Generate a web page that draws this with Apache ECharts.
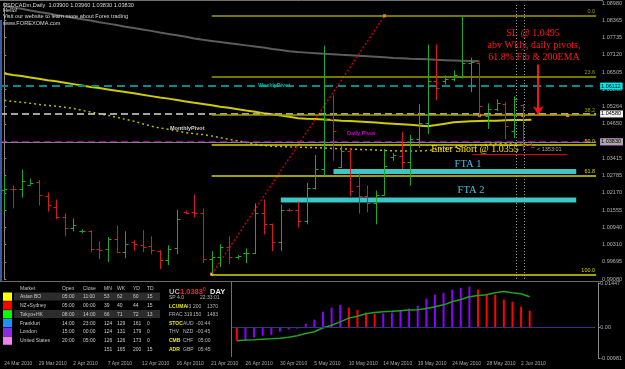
<!DOCTYPE html>
<html lang="en">
<head>
<meta charset="UTF-8">
<title>USDCADm Daily</title>
<style>
    html, body { margin: 0; padding: 0; background: #000; }
    #main { width: 625px; height: 369px; }
</style>
</head>
<body>
<div id="main"></div>
<script src="https://cdn.jsdelivr.net/npm/echarts@6/dist/echarts.min.js"></script>
<script>
    // daily bars incl. sunday sessions
    let dates = ['24 Mar 2010','25 Mar 2010','26 Mar 2010','28 Mar 2010','29 Mar 2010','30 Mar 2010','31 Mar 2010','1 Apr 2010','2 Apr 2010','4 Apr 2010',
        '5 Apr 2010','6 Apr 2010','7 Apr 2010','8 Apr 2010','9 Apr 2010','11 Apr 2010','12 Apr 2010','13 Apr 2010','14 Apr 2010','15 Apr 2010',
        '16 Apr 2010','18 Apr 2010','19 Apr 2010','20 Apr 2010','21 Apr 2010','22 Apr 2010','23 Apr 2010','25 Apr 2010','26 Apr 2010','27 Apr 2010',
        '28 Apr 2010','29 Apr 2010','30 Apr 2010','2 May 2010','3 May 2010','4 May 2010','5 May 2010','6 May 2010','7 May 2010','9 May 2010',
        '10 May 2010','11 May 2010','12 May 2010','13 May 2010','14 May 2010','16 May 2010','17 May 2010','18 May 2010','19 May 2010','20 May 2010',
        '21 May 2010','23 May 2010','24 May 2010','25 May 2010','26 May 2010','27 May 2010','28 May 2010','30 May 2010','31 May 2010','1 Jun 2010',
        '2 Jun 2010','3 Jun 2010'];
    let emptySlots = 7;

    let opens = [1.0228,1.0232,1.0232,1.0246,1.0257,1.0207,1.0168,1.0132,1.0090,1.0079,
        1.0079,1.0015,1.0015,1.0050,1.0004,1.0040,1.0029,1.0026,1.0008,0.9976,
        1.0018,1.0147,1.0147,1.0143,0.9979,0.9986,1.0022,0.9986,1.0001,1.0001,
        1.0143,1.0104,1.0040,1.0157,1.0157,1.0115,1.0236,1.0303,1.0481,1.0310,
        1.0367,1.0243,1.0204,1.0179,1.0211,1.0346,1.0349,1.0328,1.0410,1.0467,
        1.0617,1.0617,1.0624,1.0631,1.0681,1.0681,1.0492,1.0517,1.0535,1.0439,
        1.0531,1.0390];
    let highs = [1.0278,1.0243,1.0300,1.0268,1.0264,1.0218,1.0193,1.0143,1.0125,1.0086,
        1.0083,1.0043,1.0058,1.0100,1.0079,1.0047,1.0083,1.0061,1.0011,1.0029,
        1.0157,1.0154,1.0211,1.0161,1.0008,1.0033,1.0061,0.9994,1.0018,1.0179,
        1.0193,1.0107,1.0175,1.0161,1.0186,1.0253,1.0353,1.0745,1.0567,1.0389,
        1.0375,1.0286,1.0243,1.0225,1.0375,1.0360,1.0435,1.0424,1.0535,1.0749,
        1.0749,1.0638,1.0656,1.0852,1.0702,1.0684,1.0538,1.0553,1.0542,1.0563,
        1.0535,1.0396];
    let lows = [1.0150,1.0161,1.0200,1.0246,1.0172,1.0150,1.0122,1.0061,1.0079,1.0072,
        1.0004,0.9979,0.9969,1.0001,0.9983,1.0008,1.0004,0.9997,0.9944,0.9958,
        0.9997,1.0140,1.0129,0.9965,0.9925,0.9951,0.9961,0.9979,0.9965,0.9998,
        1.0068,1.0008,1.0008,1.0150,1.0093,1.0104,1.0229,1.0278,1.0332,1.0307,
        1.0204,1.0143,1.0147,1.0104,1.0207,1.0332,1.0303,1.0243,1.0378,1.0428,
        1.0549,1.0606,1.0617,1.0627,1.0578,1.0492,1.0446,1.0510,1.0410,1.0414,
        1.0367,1.0383];
    let closes = [1.0232,1.0230,1.0261,1.0253,1.0211,1.0172,1.0132,1.0090,1.0100,1.0080,
        1.0015,1.0013,1.0050,1.0004,1.0033,1.0033,1.0022,1.0011,0.9976,1.0015,
        1.0125,1.0145,1.0143,0.9979,0.9986,1.0022,0.9986,0.9992,1.0003,1.0143,
        1.0104,1.0040,1.0154,1.0155,1.0115,1.0236,1.0303,1.0481,1.0439,1.0367,
        1.0225,1.0204,1.0179,1.0211,1.0314,1.0353,1.0328,1.0410,1.0467,1.0617,
        1.0592,1.0624,1.0638,1.0681,1.0688,1.0528,1.0517,1.0538,1.0456,1.0553,
        1.0390,1.0383];

    let grayMA = [1.0887,1.0882,1.0877,1.0871,1.0866,1.0861,1.0855,1.0850,1.0845,1.0840,
        1.0835,1.0829,1.0824,1.0819,1.0813,1.0808,1.0803,1.0798,1.0792,1.0787,
        1.0782,1.0777,1.0771,1.0766,1.0762,1.0758,1.0754,1.0750,1.0746,1.0742,
        1.0738,1.0733,1.0729,1.0725,1.0722,1.0720,1.0718,1.0716,1.0714,1.0712,
        1.0711,1.0709,1.0707,1.0705,1.0703,1.0701,1.0700,1.0698,1.0697,1.0696,
        1.0694,1.0693,1.0692,1.0691,1.0690,1.0689];
    let yellowMA = [1.0645,1.0640,1.0636,1.0631,1.0626,1.0621,1.0617,1.0612,1.0607,1.0602,
        1.0597,1.0593,1.0588,1.0583,1.0579,1.0574,1.0569,1.0564,1.0559,1.0555,
        1.0550,1.0545,1.0540,1.0536,1.0531,1.0526,1.0522,1.0517,1.0512,1.0508,
        1.0503,1.0499,1.0494,1.0490,1.0485,1.0483,1.0482,1.0480,1.0478,1.0476,
        1.0475,1.0473,1.0471,1.0469,1.0467,1.0465,1.0463,1.0461,1.0459,1.0456,
        1.0460,1.0465,1.0470,1.0472,1.0474,1.0475,1.0476,1.0476,1.0477,1.0478,
        1.0478,1.0479];
    let dottedMA = [1.0549,1.0545,1.0542,1.0538,1.0534,1.0531,1.0528,1.0524,1.0520,1.0513,
        1.0507,1.0501,1.0495,1.0488,1.0481,1.0474,1.0465,1.0456,1.0450,1.0445,
        1.0439,1.0433,1.0429,1.0426,1.0421,1.0415,1.0409,1.0404,1.0398,1.0392,
        1.0387,1.0384,1.0383,1.0382,1.0381,1.0380,1.0379,1.0378,1.0376,1.0375,
        1.0374,1.0373,1.0372,1.0371,1.0369,1.0368,1.0367,1.0367,1.0367,1.0369,
        1.0373,1.0376,1.0380,1.0383,1.0387,1.0389,1.0391,1.0393,1.0394,1.0396,
        1.0397,1.0398];

    // MACD panel, first value belongs to bar 27
    let histStart = 27;
    let macdHist = [-0.0042,-0.0042,-0.0032,-0.0026,-0.0023,-0.0013,-0.0006,-0.0003,0.0013,0.0026,
        0.0052,0.0065,0.0074,0.0065,0.0058,0.0049,0.0045,0.0046,0.0049,0.0055,
        0.0062,0.0071,0.0094,0.0107,0.0113,0.0123,0.0129,0.0133,0.0123,0.0110,
        0.0107,0.0091,0.0084,0.0068,0.0055];
    let macdSignal = [-0.0042,-0.0040,-0.0039,-0.0037,-0.0036,-0.0034,-0.0031,-0.0026,-0.0019,-0.0013,
        0.0000,0.0008,0.0019,0.0031,0.0037,0.0045,0.0049,0.0052,0.0053,0.0055,
        0.0057,0.0058,0.0062,0.0068,0.0074,0.0084,0.0091,0.0100,0.0104,0.0107,
        0.0113,0.0117,0.0113,0.0110,0.0100];

    let priceTicks = ['0.99080','0.99695','1.00310','1.00940','1.01555','1.02170','1.02785','1.03415','1.04030',
        '1.04650','1.05264','1.05890','1.06505','1.07120','1.07735','1.08365','1.08980'];
    let priceMin = 0.9908, priceMax = 1.0898;
    let macdMin = -0.00981, macdMax = 0.01447;

    let fibLow = 0.9925, fibHigh = 1.0852, fibLowBar = 24, fibHighBar = 44;
    let fibRatios = [0, 23.6, 38.2, 50, 61.8, 100];
    let weeklyPivot = 1.06112, monthlyPivot = 1.04580, dailyPivot = 1.04440, bid = 1.03830;
    let stopLoss = 1.0495, entry = 1.0355;
    let slBars = [55, 60, 65.2];
    let entryBars = [54.2, 65.1];
    let arrowBar = 61.8, arrowTop = 1.0677;
    let fta1 = [38.1, 66.2, 1.0285, 1.0303];
    let fta2 = [32.0, 66.2, 1.0182, 1.0200];
    let cursorBars = [59.2, 60.2];

    let sessions = ['Asian BO', 'NZ+Sydney', 'Tokyo+HK', 'Frankfurt', 'London', 'United States', ''];
    let sessOpen = ['05:00', '05:00', '08:00', '14:00', '15:00', '20:00', ''];
    let sessClose = ['11:00', '00:00', '14:00', '23:00', '00:00', '05:00', ''];
    let sessMN = [53, 39, 66, 124, 124, 126, 151];
    let sessWK = [62, 40, 71, 129, 131, 126, 165];
    let sessYD = [60, 44, 72, 161, 179, 173, 200];
    let sessTD = [15, 15, 13, 0, 0, 0, 15];
    let sessColors = ['#ffff00', '#ff0000', '#00ff00', '#1e90ff', '#8a2be2', '#ee82ee'];

    const SANS = 'Liberation Sans';
    const SERIF = 'Liberation Serif';
    let upColor = '#22a822', downColor = '#d81c1c';

    let myChart = echarts.init(document.getElementById('main'));

    let ohlc = opens.map(function (o, i) { return [i, o, highs[i], lows[i], closes[i]]; });
    function toXY(arr, start) {
        return arr.map(function (v, k) { return [k + (start || 0), v]; });
    }
    let axisDates = dates.concat(new Array(emptySlots).fill(''));
    let priceStep = (priceMax - priceMin) / (priceTicks.length - 1);
    let priceTickValues = priceTicks.map(function (t, k) { return priceMin + k * priceStep; });

    let histData = axisDates.map(function (d, i) {
        let k = i - histStart;
        if (k < 0 || k >= macdHist.length) return null;
        let rising = k > 0 && macdHist[k] >= macdHist[k - 1];
        return { value: macdHist[k], itemStyle: { color: rising ? '#8c00ff' : '#ff0000' } };
    });
    let signalData = axisDates.map(function (d, i) {
        let k = i - histStart;
        return (k < 0 || k >= macdSignal.length) ? null : macdSignal[k];
    });

    // fibonacci levels drawn from the swing low to the swing high
    let fibLines = fibRatios.map(function (r) {
        let lvl = fibHigh - r / 100 * (fibHigh - fibLow);
        let col = r < 50 ? '#9c9c00' : '#d6d600';
        return [
            { coord: [fibLowBar, lvl], lineStyle: { color: col, width: 1.5, type: 'solid' },
              label: { show: true, position: 'insideEndTop', formatter: r.toFixed(1), color: col,
                       fontSize: 5.5, fontFamily: SANS, distance: 1 } },
            { coord: [68.5, lvl] }
        ];
    });

    function tag(value, bg) {
        return { show: true, position: 'end', formatter: value.toFixed(5), backgroundColor: bg, color: '#000',
                 fontSize: 5.5, fontFamily: SANS, padding: [1, 2, 0, 1], distance: 4 };
    }

    let levelLines = [
        { yAxis: weeklyPivot, lineStyle: { color: '#008c8c', width: 2, type: [8, 5] }, label: tag(weeklyPivot, '#00e8e8') },
        { yAxis: monthlyPivot, lineStyle: { color: '#d8d8d8', width: 1.5, type: [7, 4] }, label: tag(monthlyPivot, '#f0f0f0') },
        { yAxis: dailyPivot, lineStyle: { color: '#c800c8', width: 1.5, type: [7, 4] }, label: tag(dailyPivot, '#e800e8') },
        { yAxis: bid, lineStyle: { color: '#808080', width: 1, type: 'solid' }, label: tag(bid, '#a8a8a8') },
        { xAxis: cursorBars[0], lineStyle: { color: '#9a9a9a', width: 1, type: [1, 2] } },
        { xAxis: cursorBars[1], lineStyle: { color: '#9a9a9a', width: 1, type: [1, 2] } },
        [{ coord: [entryBars[0], entry], lineStyle: { color: '#e00000', width: 1, type: 'solid' } }, { coord: [entryBars[1], entry] }],
        [{ coord: [arrowBar, arrowTop], symbol: 'none', lineStyle: { color: '#ff1010', width: 2, type: 'solid' } },
         { coord: [arrowBar, stopLoss], symbol: 'arrow', symbolSize: [8, 9] }]
    ].concat(fibLines);

    function txt(x, y, text, fill, size, o) {
        o = o || {};
        let align = o.align || 'left';
        return {
            type: 'text', z: o.z || 100, silent: true,
            style: {
                text: text, x: x, y: y, fill: fill, fontSize: size,
                fontFamily: o.family || SANS, fontWeight: o.weight || 'normal',
                align: align, textAlign: align, verticalAlign: 'middle', textVerticalAlign: 'middle'
            }
        };
    }
    function rect(x, y, w, h, fill, z) {
        return { type: 'rect', z: z || 95, silent: true, shape: { x: x, y: y, width: w, height: h }, style: { fill: fill } };
    }
    function hline(x1, y1, x2, y2, stroke, z) {
        return { type: 'line', z: z || 96, silent: true, shape: { x1: x1, y1: y1, x2: x2, y2: y2 }, style: { stroke: stroke, lineWidth: 1 } };
    }

    let graphics = [
        hline(0, 0.5, 603, 0.5, '#707070'),
        hline(0, 281.5, 603, 281.5, '#6a6a6a'),
        rect(0, 20, 2, 261, '#3a5a9a'),
        txt(3, 5, 'USDCADm,Daily  1.03900 1.03960 1.03830 1.03830', '#d8d8d8', 5.6),
        txt(3, 10.5, 'Hello!', '#d8d8d8', 5.6),
        txt(3, 16.5, 'Visit our website to learn more about Forex trading', '#d8d8d8', 5.6),
        txt(3, 23, 'www.FOREXOMA.com', '#d8d8d8', 5.6),
        txt(258, 85.5, 'WeeklyPivot', '#00a8a8', 5.5, { weight: 'bold' }),
        txt(170, 128.5, 'MonthlyPivot', '#d0d0d0', 5.5, { weight: 'bold' }),
        txt(347, 133, 'Daily Pivot', '#c800c8', 5.5, { weight: 'bold' }),
        txt(533, 33, 'SL @ 1.0495', '#ff1a1a', 10, { family: SERIF, align: 'center' }),
        txt(534, 45.5, 'abv Wkly, daily pivots,', '#ff1a1a', 10, { family: SERIF, align: 'center' }),
        txt(534, 57.5, '61.8% Fib & 200EMA', '#ff1a1a', 10, { family: SERIF, align: 'center' }),
        txt(475, 149, 'Enter Short @ 1.0355', '#ffe400', 10, { family: SERIF, align: 'center' }),
        txt(537, 149.5, '< 1353:01', '#a8a8a8', 5.5),
        txt(468, 164.5, 'FTA 1', '#48bde0', 10.5, { family: SERIF, align: 'center' }),
        txt(471, 190.5, 'FTA 2', '#48bde0', 10.5, { family: SERIF, align: 'center' }),
        // info box over the lower panel
        rect(0, 282.5, 231, 74, '#000', 90),
        hline(231.5, 282, 231.5, 357, '#707070', 96),
        rect(14, 292.5, 146, 8, '#2c2c2c', 91),
        rect(14, 310, 146, 8, '#2c2c2c', 91)
    ];
    let colX = [20, 62, 83, 104, 117, 133, 147];
    ['Market', 'Open', 'Close', 'MN', 'WK', 'YD', 'TD'].forEach(function (h, c) {
        graphics.push(txt(colX[c], 289, h, '#c0c0c0', 5));
    });
    sessions.forEach(function (name, r) {
        let y = 296.5 + r * 8.9;
        if (r < sessColors.length) graphics.push(rect(3, 292.5 + r * 8.8, 9, 8.3, sessColors[r], 92));
        [name, sessOpen[r], sessClose[r], sessMN[r], sessWK[r], sessYD[r], sessTD[r]].forEach(function (v, c) {
            graphics.push(txt(colX[c], y, String(v), '#c8c8c8', 5));
        });
    });
    graphics.push(
        txt(169, 292, 'UC', '#b8b8b8', 7.5, { weight: 'bold' }),
        txt(180, 292, '1.0383', '#ff2020', 7.5, { weight: 'bold' }),
        txt(203, 290, '0', '#ff2020', 5, { weight: 'bold' }),
        txt(210, 292, 'DAY', '#e8e8e8', 7.5, { weight: 'bold' }),
        txt(169, 298, 'SP 4.0', '#b8b8b8', 5),
        txt(200, 298, '22:33:01', '#b8b8b8', 5),
        txt(169, 306.5, 'LCUMA', '#e8e800', 5, { weight: 'bold' }),
        txt(184, 306.5, '-43', '#b8b8b8', 5), txt(193, 306.5, '200', '#b8b8b8', 5), txt(207, 306.5, '1370', '#b8b8b8', 5),
        txt(169, 315, 'FRAC', '#b8b8b8', 5),
        txt(184, 315, '319', '#b8b8b8', 5), txt(193, 315, '150', '#b8b8b8', 5), txt(207, 315, '1483', '#b8b8b8', 5),
        txt(169, 323.5, 'STOC', '#e8e800', 5, { weight: 'bold' }),
        txt(183, 323.5, 'AUD', '#b8b8b8', 5), txt(196, 323.5, '-00:44', '#b8b8b8', 5),
        txt(169, 332, 'THV', '#b8b8b8', 5),
        txt(183, 332, 'NZD', '#b8b8b8', 5), txt(196, 332, '-00:45', '#b8b8b8', 5),
        txt(169, 341, 'CMB', '#e8e800', 5, { weight: 'bold' }),
        txt(183, 341, 'CHF', '#b8b8b8', 5), txt(198, 341, '05:00', '#b8b8b8', 5),
        txt(169, 350, 'ADR', '#e8e800', 5, { weight: 'bold' }),
        txt(183, 350, 'GBP', '#b8b8b8', 5), txt(198, 350, '05:45', '#b8b8b8', 5)
    );

    let option = {
        backgroundColor: '#000',
        animation: false,
        grid: [
            { left: -1.05, top: 1, width: 600.3, height: 278 },
            { left: -1.05, top: 283, width: 600.3, height: 75 }
        ],
        xAxis: [
            { type: 'value', gridIndex: 0, min: -0.5, max: 68.5, show: false },
            {
                type: 'category', gridIndex: 1, data: axisDates, boundaryGap: true,
                axisLine: { lineStyle: { color: '#808080' } },
                axisTick: { interval: 3, alignWithLabel: true, length: 2, lineStyle: { color: '#909090' } },
                axisLabel: { interval: 3, align: 'left', fontSize: 5, fontFamily: SANS, color: '#a8a8a8', margin: 3 },
                splitLine: { show: false }
            }
        ],
        yAxis: [
            {
                type: 'value', gridIndex: 0, position: 'right', offset: 4, min: priceMin, max: priceMax,
                axisLine: { show: true, lineStyle: { color: '#8a8a8a' } },
                axisTick: { show: true, length: 2, customValues: priceTickValues, lineStyle: { color: '#8a8a8a' } },
                axisLabel: {
                    fontSize: 5.5, fontFamily: SANS, color: '#b0b0b0', margin: 2, customValues: priceTickValues,
                    formatter: function (v) { return priceTicks[Math.round((v - priceMin) / priceStep)] || ''; }
                },
                splitLine: { show: false }
            },
            {
                type: 'value', gridIndex: 1, position: 'right', offset: 4, min: macdMin, max: macdMax,
                axisLine: { show: true, lineStyle: { color: '#8a8a8a' } },
                axisTick: { show: true, length: 2, customValues: [macdMin, 0, macdMax], lineStyle: { color: '#8a8a8a' } },
                axisLabel: {
                    fontSize: 5.5, fontFamily: SANS, color: '#b0b0b0', margin: 2, customValues: [macdMin, 0, macdMax],
                    formatter: function (v) { return Math.abs(v) < 1e-9 ? '0.00' : v.toFixed(5); }
                },
                splitLine: { show: false }
            }
        ],
        series: [
            {
                name: 'levels', type: 'line', xAxisIndex: 0, yAxisIndex: 0, data: [], silent: true,
                markArea: {
                    silent: true,
                    itemStyle: { color: '#3cc6c6' },
                    data: [
                        [{ coord: [fta1[0], fta1[3]] }, { coord: [fta1[1], fta1[2]] }],
                        [{ coord: [fta2[0], fta2[3]] }, { coord: [fta2[1], fta2[2]] }]
                    ]
                },
                markLine: { silent: true, symbol: 'none', label: { show: false }, data: levelLines }
            },
            {
                name: 'MA gray', type: 'line', data: toXY(grayMA), showSymbol: false, silent: true,
                lineStyle: { color: '#5c5c5c', width: 2 }, z: 3
            },
            {
                name: 'MA yellow', type: 'line', data: toXY(yellowMA), showSymbol: false, silent: true,
                lineStyle: { color: '#cccc00', width: 2 }, z: 3
            },
            {
                name: 'MA dotted', type: 'line', data: toXY(dottedMA), showSymbol: false, silent: true,
                lineStyle: { color: '#b8b800', width: 1.5, type: [2, 3] }, z: 3
            },
            {
                name: 'fib anchor', type: 'line', data: [[fibLowBar, fibLow], [fibHighBar, fibHigh]],
                symbol: 'rect', symbolSize: 3, silent: true,
                itemStyle: { color: '#ffd0d0', borderColor: '#c00000', borderWidth: 0.5 },
                lineStyle: { color: '#c00000', width: 1.5, type: [2, 2] }, z: 4
            },
            {
                name: 'stop', type: 'line', data: slBars.map(function (b) { return [b, stopLoss]; }),
                symbol: 'rect', symbolSize: 3, silent: true,
                itemStyle: { color: '#ffe0e0', borderColor: '#e00000', borderWidth: 0.5 },
                lineStyle: { color: '#e00000', width: 1 }, z: 4
            },
            {
                name: 'USDCAD', type: 'custom', data: ohlc, z: 5, silent: true,
                encode: { x: 0, y: [1, 2, 3, 4] },
                renderItem: function (params, api) {
                    let i = api.value(0);
                    let o = api.coord([i, api.value(1)]);
                    let h = api.coord([i, api.value(2)]);
                    let l = api.coord([i, api.value(3)]);
                    let c = api.coord([i, api.value(4)]);
                    let px = Math.round(o[0]) + 0.5;
                    let col = api.value(4) >= api.value(1) ? upColor : downColor;
                    let st = { stroke: col, lineWidth: 1 };
                    return {
                        type: 'group',
                        children: [
                            { type: 'line', shape: { x1: px, y1: h[1], x2: px, y2: l[1] }, style: st },
                            { type: 'line', shape: { x1: px - 3, y1: Math.round(o[1]) + 0.5, x2: px, y2: Math.round(o[1]) + 0.5 }, style: st },
                            { type: 'line', shape: { x1: px, y1: Math.round(c[1]) + 0.5, x2: px + 3, y2: Math.round(c[1]) + 0.5 }, style: st }
                        ]
                    };
                }
            },
            {
                name: 'MACD', type: 'bar', xAxisIndex: 1, yAxisIndex: 1, data: histData, barWidth: 2, silent: true,
                markLine: {
                    silent: true, symbol: 'none', label: { show: false },
                    data: [{ yAxis: 0, lineStyle: { color: '#34347e', width: 1, type: 'solid' } }]
                }
            },
            {
                name: 'Signal', type: 'line', xAxisIndex: 1, yAxisIndex: 1, data: signalData, showSymbol: false,
                silent: true, lineStyle: { color: '#22a022', width: 1.5 }
            }
        ],
        graphic: graphics
    };
    myChart.setOption(option);
</script>
</body>
</html>
